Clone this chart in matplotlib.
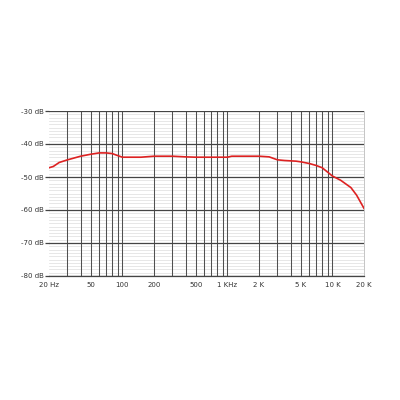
import numpy as np
from matplotlib import pyplot as plt
from matplotlib.ticker import FixedLocator, NullFormatter

# frequency response
freq = [20, 22, 25, 30, 40, 50, 60, 70, 80, 90, 100, 150, 200, 300, 400, 500,
        700, 1000, 1100, 2000, 2500, 3000, 3500, 4500, 5000, 6000, 7000, 8000,
        10000, 12000, 15000, 17000, 20000]
level = [-47.2, -46.8, -45.6, -44.8, -43.7, -43.1, -42.7, -42.7, -42.9, -43.5,
         -44.0, -44.0, -43.7, -43.7, -43.9, -44.0, -44.0, -44.0, -43.7, -43.7,
         -43.9, -44.8, -45.0, -45.2, -45.4, -45.9, -46.5, -47.2, -49.7, -51.0,
         -53.2, -55.5, -59.5]

x_ticks = [20, 50, 100, 200, 500, 1000, 2000, 5000, 10000, 20000]
x_labels = ["20 Hz", "50", "100", "200", "500", "1 KHz", "2 K", "5 K", "10 K", "20 K"]
y_ticks = [-80, -70, -60, -50, -40, -30]
y_labels = ["-80 dB", "-70 dB", "-60 dB", "-50 dB", "-40 dB", "-30 dB"]

fig = plt.figure(figsize=(4, 4), dpi=100)
ax = fig.add_axes([0.1225, 0.31, 0.7875, 0.4125])

ax.set_xscale("log")
ax.set_xlim(20, 20000)
ax.set_ylim(-80, -30)

# vertical grid: every decade step
vlines = [m * 10 ** e for e in range(1, 5) for m in range(1, 10)]
vlines = [v for v in vlines if 20 < v < 20000]
for v in vlines:
    ax.axvline(v, color="#505050", lw=0.75, zorder=1)

# horizontal grid: light every dB, dark every 10 dB
for d in range(-79, -30):
    if d % 10:
        ax.axhline(d, color="#dddddd", lw=0.5, zorder=0)
for d in y_ticks:
    ax.axhline(d, color="#444444", lw=0.9, zorder=1)

ax.plot(freq, level, color="#dd2222", lw=1.2, zorder=3)

ax.xaxis.set_major_locator(FixedLocator(x_ticks))
ax.xaxis.set_minor_formatter(NullFormatter())
ax.set_xticks([], minor=True)
ax.set_xticklabels(x_labels)
ax.set_yticks(y_ticks)
ax.set_yticklabels(y_labels)
ax.tick_params(axis="x", length=0, labelsize=5, pad=4, colors="#333333")
ax.tick_params(axis="y", length=3, width=0.9, color="#444444", labelsize=5, pad=1,
               labelcolor="#333333")

for s in ["top", "left"]:
    ax.spines[s].set_visible(False)
ax.spines["bottom"].set_color("#444444")
ax.spines["bottom"].set_linewidth(0.9)
ax.spines["right"].set_color("#bbbbbb")
ax.spines["right"].set_linewidth(0.6)

plt.savefig("out.png")
plt.close()
